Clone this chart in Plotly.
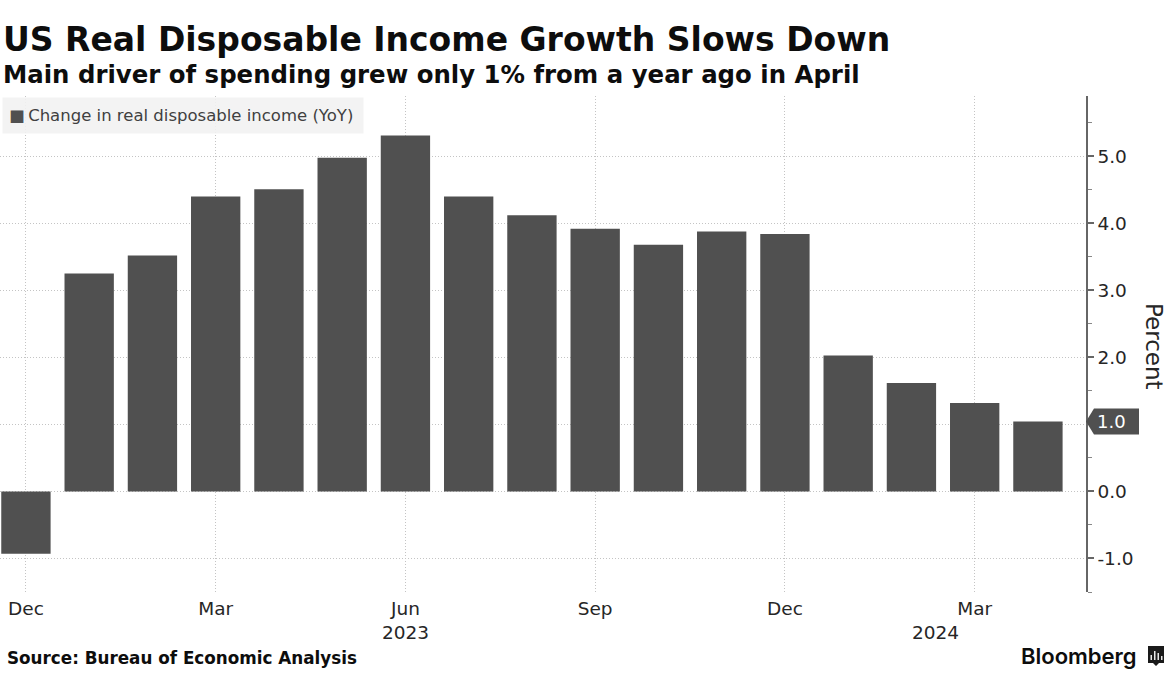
import plotly.graph_objects as go

months = ["Dec 2022","Jan 2023","Feb 2023","Mar 2023","Apr 2023","May 2023","Jun 2023","Jul 2023","Aug 2023",
          "Sep 2023","Oct 2023","Nov 2023","Dec 2023","Jan 2024","Feb 2024","Mar 2024","Apr 2024"]
values = [-0.93,3.25,3.52,4.40,4.51,4.98,5.31,4.40,4.12,3.92,3.68,3.88,3.84,2.03,1.62,1.32,1.045]
x_ticks = [0,3,6,9,12,15]
x_labels = ["Dec","Mar","Jun","Sep","Dec","Mar"]
y_ticks = [-1,0,1,2,3,4,5]
y_labels = ["-1.0","0.0","","2.0","3.0","4.0","5.0"]
years = [("2023",6.0),("2024",14.38)]
series_name = "Change in real disposable income (YoY)"

BAR="#505050"; INK="#0d0d0d"; TICK="#262626"; GRID="#c4c4c4"; FONT="DejaVu Sans"
idx=list(range(len(values)))

fig=go.Figure(go.Bar(x=idx,y=values,width=0.78,marker=dict(color=BAR,line_width=0),
    name=series_name,showlegend=False,
    customdata=months,hovertemplate="%{customdata}: %{y:.1f}%<extra></extra>"))

anns=[
 dict(text="<b>US Real Disposable Income Growth Slows Down</b>",xref="paper",yref="paper",x=0,y=1,xshift=1,yshift=57,
      xanchor="left",yanchor="middle",showarrow=False,font=dict(family=FONT,size=33,color=INK)),
 dict(text="<b>Main driver of spending grew only 1% from a year ago in April</b>",xref="paper",yref="paper",x=0,y=1,xshift=1,yshift=22,
      xanchor="left",yanchor="middle",showarrow=False,font=dict(family=FONT,size=24.4,color=INK)),
 dict(text=f"&nbsp;<span style='color:{BAR}'>■</span>&#8201;{series_name}",xref="paper",yref="paper",x=0,y=1,xshift=2,yshift=-1,
      xanchor="left",yanchor="top",showarrow=False,align="left",width=358,height=33,
      bgcolor="rgba(242,242,242,0.9)",font=dict(family=FONT,size=16.5,color="#404040")),
 dict(text="<b>Source: Bureau of Economic Analysis</b>",xref="paper",yref="paper",x=0,y=0,xshift=5,yshift=-66,
      xanchor="left",yanchor="middle",showarrow=False,font=dict(family=FONT,size=16.8,color=INK)),
 dict(text="Bloomberg",xref="paper",yref="paper",x=1,y=0,xshift=53,yshift=-64,
      xanchor="right",yanchor="middle",showarrow=False,font=dict(family="Inter",size=22,weight=600,color=INK)),
 dict(text="Percent",xref="paper",yref="paper",x=1,y=0.5,xshift=68,yshift=-2,textangle=90,
      xanchor="center",yanchor="middle",showarrow=False,font=dict(family=FONT,size=23,color=TICK)),
 dict(text=f"{values[-1]:.1f}",xref="paper",yref="y",x=1,y=values[-1],xshift=25,
      xanchor="center",yanchor="middle",showarrow=False,font=dict(family=FONT,size=18,color="#ffffff")),
]
for t,xp in years:
    anns.append(dict(text=t,xref="x",yref="paper",x=xp,y=0,yshift=-40,xanchor="center",yanchor="middle",
                     showarrow=False,font=dict(family=FONT,size=18.5,color=TICK)))

shapes=[
 dict(type="path",xref="paper",yref="y",xsizemode="pixel",ysizemode="pixel",xanchor=1,yanchor=values[-1],
      path="M 0,0 L 8,13 L 53,13 L 53,-13 L 8,-13 Z",fillcolor=BAR,line_width=0,layer="above"),
 dict(type="path",xref="paper",yref="paper",xsizemode="pixel",ysizemode="pixel",xanchor=1,yanchor=0,
      path="M 62,-54 L 78,-54 L 78,-71 L 73,-71 L 70,-74 L 67,-71 L 62,-71 Z",fillcolor="#1a1a1a",line_width=0,layer="above"),
]
for dx,h in ((64.5,5),(68,9),(71.5,7),(75,4)):
    shapes.append(dict(type="rect",xref="paper",yref="paper",xsizemode="pixel",ysizemode="pixel",xanchor=1,yanchor=0,
                       x0=dx,x1=dx+1.5,y0=-68,y1=-68+h,fillcolor="#e6e6e6",line_width=0,layer="above"))

fig.update_layout(
    width=1170,height=686,margin=dict(l=0,r=84,t=96,b=94,pad=0),
    paper_bgcolor="white",plot_bgcolor="white",
    font=dict(family=FONT,color=TICK),
    annotations=anns,shapes=shapes,
    xaxis=dict(range=[-0.41,16.76],tickmode="array",tickvals=x_ticks,ticktext=x_labels,
               showgrid=True,gridcolor=GRID,griddash="1px,2px",gridwidth=1,zeroline=False,showline=False,
               ticks="",tickfont=dict(family=FONT,size=18.5,color=TICK),ticklabelstandoff=3),
    yaxis=dict(range=[-1.5,5.9],side="right",tickmode="array",tickvals=y_ticks,ticktext=y_labels,
               showgrid=True,gridcolor=GRID,griddash="1px,2px",gridwidth=1,zeroline=False,
               showline=True,linecolor="#666666",linewidth=1.5,ticks="outside",ticklen=6,tickcolor="#666666",tickwidth=1.5,
               tickfont=dict(family=FONT,size=18.5,color=TICK),
               minor=dict(tickvals=[-1.5,-0.5,0.5,1.5,2.5,3.5,4.5,5.5],ticks="outside",ticklen=4,tickcolor="#888888",tickwidth=1,showgrid=False)),
)
fig.write_html("out.html",config=dict(displayModeBar=False),post_script="document.body.style.margin='0';")
